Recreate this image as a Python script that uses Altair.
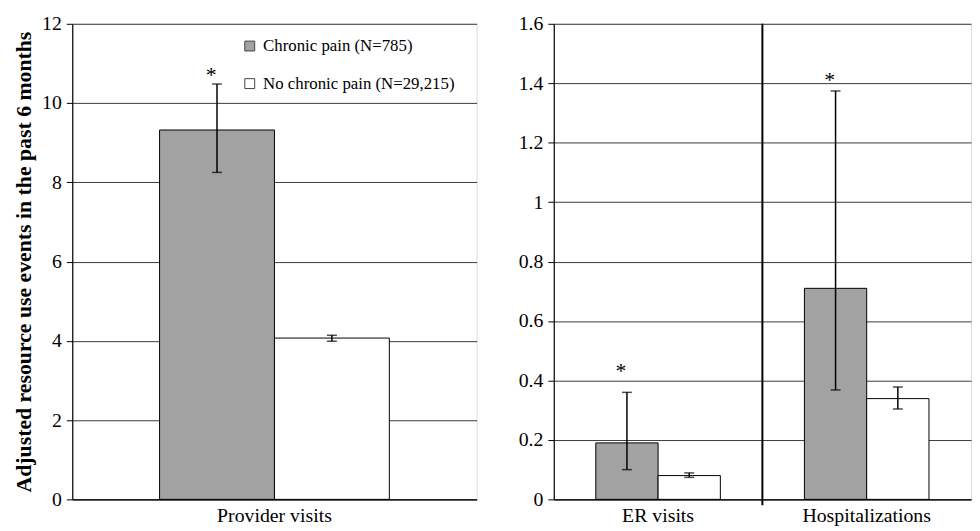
import altair as alt
import pandas as pd

groups = ["Chronic pain (N=785)", "No chronic pain (N=29,215)"]
left_cats = ["Provider visits"]
right_cats = ["ER visits", "Hospitalizations"]

provider_mean = [9.32, 4.07]
provider_lo = [8.25, 3.99]
provider_hi = [10.48, 4.14]

er_mean = [0.19, 0.08]
er_lo = [0.10, 0.074]
er_hi = [0.36, 0.089]

hosp_mean = [0.71, 0.339]
hosp_lo = [0.368, 0.304]
hosp_hi = [1.374, 0.378]

star_cats = ["Provider visits", "ER visits", "Hospitalizations"]
star_y = [10.8, 0.445, 1.425]

FONT = "Liberation Serif"
colors = ["#a2a2a2", "#ffffff"]

def make_df(cat, mean, lo, hi):
    return pd.DataFrame({"cat": [cat] * 2, "group": groups, "mean": mean, "lo": lo, "hi": hi})

left_df = make_df(left_cats[0], provider_mean, provider_lo, provider_hi)
right_df = pd.concat([
    make_df(right_cats[0], er_mean, er_lo, er_hi),
    make_df(right_cats[1], hosp_mean, hosp_lo, hosp_hi),
], ignore_index=True)

star_df = pd.DataFrame({"cat": star_cats, "group": [groups[0]] * 3, "y": star_y, "t": ["*"] * 3})
left_star = star_df[star_df["cat"].isin(left_cats)]
right_star = star_df[star_df["cat"].isin(right_cats)]
divider_df = pd.DataFrame({"cat": [right_cats[1]]})


def panel(df, stars, cats, ydomain, yvalues, fmt, po, ytitle, legend):
    xenc = alt.X("cat:N", sort=cats, title=None,
                 scale=alt.Scale(paddingInner=0, paddingOuter=0),
                 axis=alt.Axis(ticks=False, labelAngle=0, labelFont=FONT, labelFontSize=20,
                               labelColor="black", labelPadding=6, domainColor="black",
                               domainWidth=1.2))
    xoff = alt.XOffset("group:N", sort=groups,
                       scale=alt.Scale(paddingInner=0, paddingOuter=po))
    yscale = alt.Scale(domain=ydomain, nice=False, zero=True)
    yaxis = alt.Axis(values=yvalues, format=fmt, labelFont=FONT, labelFontSize=20,
                     labelColor="black", labelPadding=5, tickSize=6, tickColor="black",
                     domainColor="black", domainWidth=1.2, gridColor="#3a3a3a", gridWidth=1,
                     title=ytitle, titleFont=FONT, titleFontSize=22, titleFontWeight="bold",
                     titleColor="black", titlePadding=6)
    if legend:
        leg = alt.Legend(title=None, orient="none", legendX=171, legendY=14,
                         symbolType="square", symbolSize=100, symbolStrokeColor="#444",
                         symbolStrokeWidth=1, labelFont=FONT, labelFontSize=17,
                         labelColor="black", labelOffset=5, rowPadding=20, padding=0,
                         labelLimit=0)
    else:
        leg = None
    bars = alt.Chart(df).mark_bar(stroke="black", strokeWidth=1).encode(
        x=xenc, xOffset=xoff,
        y=alt.Y("mean:Q", scale=yscale, axis=yaxis),
        fill=alt.Fill("group:N", sort=groups,
                      scale=alt.Scale(domain=groups, range=colors), legend=leg),
    )
    rule = alt.Chart(df).mark_rule(color="black", strokeWidth=1.5).encode(
        x=alt.X("cat:N", sort=cats), xOffset=xoff, y="lo:Q", y2="hi:Q")
    cap_lo = alt.Chart(df).mark_tick(color="black", thickness=1.5, size=10).encode(
        x=alt.X("cat:N", sort=cats), xOffset=xoff, y="lo:Q")
    cap_hi = alt.Chart(df).mark_tick(color="black", thickness=1.5, size=10).encode(
        x=alt.X("cat:N", sort=cats), xOffset=xoff, y="hi:Q")
    star = alt.Chart(stars).mark_text(font=FONT, fontSize=22, color="black",
                                      baseline="middle", dx=-6, dy=4).encode(
        x=alt.X("cat:N", sort=cats), xOffset=xoff, y="y:Q", text="t:N")
    return [bars, rule, cap_lo, cap_hi, star]


left_layers = panel(left_df, left_star, left_cats, [0, 12], [0, 2, 4, 6, 8, 10, 12], "d",
                    0.76, "Adjusted resource use events in the past 6 months", True)
left = alt.layer(*left_layers).properties(width=409, height=481)

right_layers = panel(right_df, right_star, right_cats, [0, 1.6],
                     [0, 0.2, 0.4, 0.6, 0.8, 1.0, 1.2, 1.4, 1.6], "~g",
                     0.675, None, False)
divider = alt.Chart(divider_df).mark_rule(color="black", strokeWidth=2).encode(
    x=alt.X("cat:N", sort=right_cats, bandPosition=0),
    y=alt.value(0), y2=alt.value(487))
right = alt.layer(*right_layers, divider).properties(width=422, height=481)

chart = alt.hconcat(left, right, spacing=40).resolve_scale(
    fill="independent", x="independent", y="independent", xOffset="independent"
).properties(
    padding={"left": 4, "top": 2, "right": 0, "bottom": 0}
).configure_view(stroke=None).configure(
    background="white"
).configure_axis(
    labelFont=FONT, titleFont=FONT
).configure_legend(
    labelFont=FONT
).configure_text(font=FONT)

chart.save("out.html", embed_options={"renderer": "svg", "actions": False})
